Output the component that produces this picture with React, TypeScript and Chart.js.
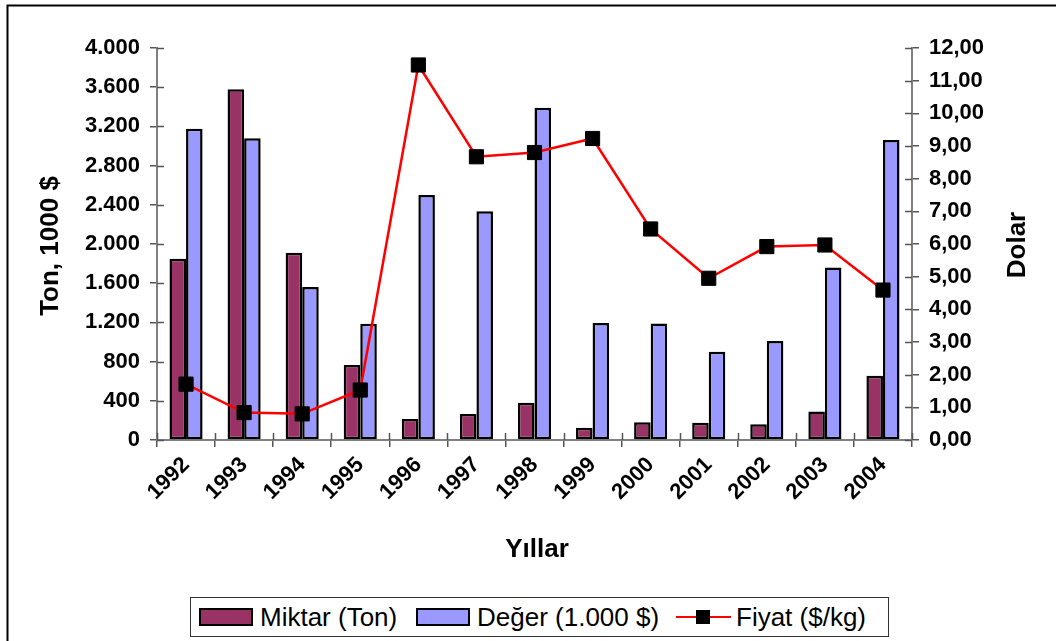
import React, { useEffect, useRef } from "react";
import { Chart, registerables } from "chart.js";

Chart.register(...registerables);

const years = ["1992", "1993", "1994", "1995", "1996", "1997", "1998", "1999", "2000", "2001", "2002", "2003", "2004"];
const miktar = [1850, 3580, 1910, 765, 215, 265, 380, 125, 180, 175, 160, 290, 655];
const deger = [3175, 3080, 1560, 1185, 2500, 2335, 3390, 1195, 1190, 900, 1010, 1760, 3060];
const fiyat = [1.71, 0.84, 0.8, 1.53, 11.48, 8.67, 8.8, 9.23, 6.46, 4.95, 5.92, 5.97, 4.59];

const seriesNames = ["Miktar (Ton)", "Değer (1.000 $)", "Fiyat ($/kg)"];
const leftTitle = "Ton, 1000 $";
const rightTitle = "Dolar";
const xTitle = "Yıllar";

const FONT = '"Liberation Sans", Arial, Helvetica, sans-serif';
const AXIS_GRAY = "#808080";
const TICK_GRAY = "#555555";

const decor = {
  id: "decor",
  afterDraw(chart: any) {
    const { ctx, chartArea, scales } = chart;
    const { left, right, bottom } = chartArea;
    ctx.save();
    ctx.strokeStyle = "#000";
    ctx.lineWidth = 2;
    ctx.strokeRect(7.5, 5.5, 1200, 800);
    ctx.strokeStyle = TICK_GRAY;
    ctx.lineWidth = 1.5;
    ctx.beginPath();
    scales.y.ticks.forEach((t: any) => {
      const y = Math.round(scales.y.getPixelForValue(t.value)) + 0.5;
      ctx.moveTo(left, y);
      ctx.lineTo(left + 7, y);
    });
    scales.y1.ticks.forEach((t: any) => {
      const y = Math.round(scales.y1.getPixelForValue(t.value)) + 0.5;
      ctx.moveTo(right - 7, y);
      ctx.lineTo(right, y);
    });
    const n = years.length;
    for (let i = 0; i <= n; i++) {
      const x = Math.round(left + (i * (right - left)) / n) + 0.5;
      ctx.moveTo(x, bottom - 7);
      ctx.lineTo(x, bottom);
    }
    ctx.stroke();
    ctx.fillStyle = "#000";
    ctx.font = `bold 26px ${FONT}`;
    ctx.textAlign = "center";
    ctx.textBaseline = "middle";
    ctx.save();
    ctx.translate(51, 246);
    ctx.rotate(-Math.PI / 2);
    ctx.fillText(leftTitle, 0, 0);
    ctx.restore();
    ctx.save();
    ctx.translate(1018, 245);
    ctx.rotate(-Math.PI / 2);
    ctx.fillText(rightTitle, 0, 0);
    ctx.restore();
    ctx.fillText(xTitle, 537, 550);
    ctx.restore();
  },
};

function Legend() {
  const txt: React.CSSProperties = {
    position: "absolute",
    top: 0,
    height: 39,
    lineHeight: "39px",
    fontFamily: FONT,
    fontSize: 26,
    color: "#000",
    whiteSpace: "nowrap",
  };
  const sw = (left: number, bg: string): React.CSSProperties => ({
    position: "absolute",
    left,
    top: 10,
    width: 50,
    height: 14,
    background: bg,
    border: "2px solid #000",
  });
  return (
    <div
      style={{
        position: "absolute",
        left: 190,
        top: 597,
        width: 697,
        height: 38,
        border: "1px solid #333",
        background: "#fff",
      }}
    >
      <div style={sw(8, "#993366")} />
      <span style={{ ...txt, left: 69 }}>{seriesNames[0]}</span>
      <div style={sw(225, "#9999FF")} />
      <span style={{ ...txt, left: 286 }}>{seriesNames[1]}</span>
      <div style={{ position: "absolute", left: 485, top: 18, width: 55, height: 2, background: "#FF0000" }} />
      <div style={{ position: "absolute", left: 505, top: 12, width: 14, height: 14, background: "#000" }} />
      <span style={{ ...txt, left: 545 }}>{seriesNames[2]}</span>
    </div>
  );
}

export default function App() {
  const ref = useRef<HTMLCanvasElement>(null);
  useEffect(() => {
    if (!ref.current) return;
    Chart.defaults.font.family = FONT;
    const tickFont = { family: FONT, size: 22, weight: "bold" as const };
    const chart = new Chart(ref.current, {
      type: "bar",
      data: {
        labels: years,
        datasets: [
          {
            type: "line",
            label: seriesNames[2],
            data: fiyat,
            yAxisID: "y1",
            borderColor: "#FF0000",
            borderWidth: 2.5,
            pointStyle: "rect",
            pointRadius: 10,
            pointBackgroundColor: "#000",
            pointBorderColor: "#000",
            pointBorderWidth: 1,
            tension: 0,
            order: 0,
          } as any,
          {
            type: "bar",
            label: seriesNames[0],
            data: miktar,
            yAxisID: "y",
            backgroundColor: "#993366",
            borderColor: "#000",
            borderWidth: 2.5,
            borderSkipped: false,
            barPercentage: 1,
            categoryPercentage: 0.57,
            order: 1,
          },
          {
            type: "bar",
            label: seriesNames[1],
            data: deger,
            yAxisID: "y",
            backgroundColor: "#9999FF",
            borderColor: "#000",
            borderWidth: 2.5,
            borderSkipped: false,
            barPercentage: 1,
            categoryPercentage: 0.57,
            order: 1,
          },
        ],
      },
      options: {
        responsive: false,
        animation: false,
        devicePixelRatio: 1,
        layout: { padding: { top: 48, left: 0, right: 0, bottom: 0 } },
        plugins: { legend: { display: false }, tooltip: { enabled: false } },
        scales: {
          x: {
            offset: true,
            grid: { drawOnChartArea: false, tickLength: 7, color: TICK_GRAY, lineWidth: 1.5, offset: true },
            border: { color: AXIS_GRAY, width: 2 },
            ticks: { font: { ...tickFont, size: 22 }, color: "#000", maxRotation: 45, minRotation: 45, padding: 5, autoSkip: false },
            afterFit(s: any) {
              s.height = 201;
            },
          },
          y: {
            position: "left",
            min: 0,
            max: 4000,
            grid: { drawOnChartArea: false, tickLength: 7, color: TICK_GRAY, lineWidth: 1.5 },
            border: { color: AXIS_GRAY, width: 2 },
            ticks: {
              stepSize: 400,
              font: tickFont,
              color: "#000",
              padding: 10,
              callback: (v: any) => Number(v).toLocaleString("de-DE"),
            },
            afterFit(s: any) {
              s.width = 157;
            },
          },
          y1: {
            position: "right",
            min: 0,
            max: 12,
            grid: { drawOnChartArea: false, tickLength: 7, color: TICK_GRAY, lineWidth: 1.5 },
            border: { color: AXIS_GRAY, width: 2 },
            ticks: {
              stepSize: 1,
              font: tickFont,
              color: "#000",
              padding: 10,
              callback: (v: any) => Number(v).toFixed(2).replace(".", ","),
            },
            afterFit(s: any) {
              s.width = 144;
            },
          },
        },
      },
      plugins: [decor],
    });
    return () => chart.destroy();
  }, []);
  return (
    <div style={{ position: "absolute", left: 0, top: 0, width: 1056, height: 641, background: "#fff", overflow: "hidden" }}>
      <canvas ref={ref} width={1056} height={641} style={{ position: "absolute", left: 0, top: 0 }} />
      <Legend />
    </div>
  );
}
